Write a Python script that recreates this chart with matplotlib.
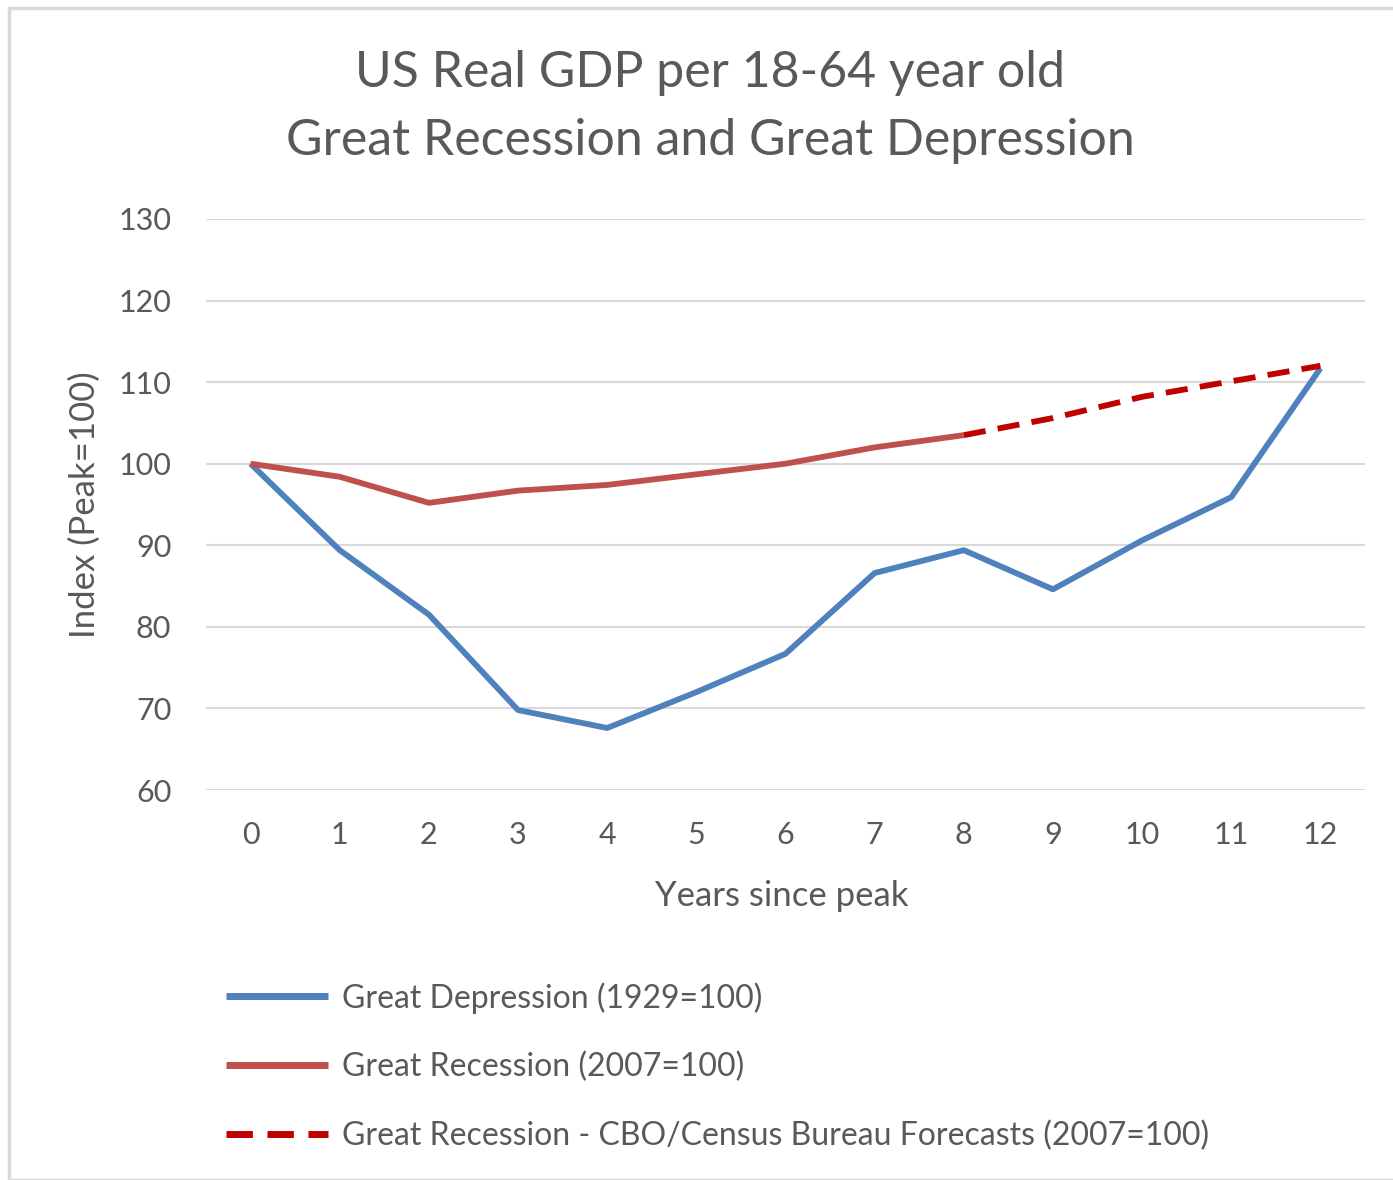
import matplotlib.pyplot as plt
from matplotlib.patches import Rectangle

years = list(range(13))
depression = [100, 89.4, 81.5, 69.8, 67.6, 72.0, 76.7, 86.6, 89.4, 84.6, 90.6, 95.9, 111.7]
recession_years = list(range(9))
recession = [100, 98.4, 95.2, 96.7, 97.4, 98.7, 100, 102, 103.5]
forecast_years = list(range(8, 13))
forecast = [103.5, 105.6, 108.2, 110.1, 112]

labels = ['Great Depression (1929=100)',
          'Great Recession (2007=100)',
          'Great Recession - CBO/Census Bureau Forecasts (2007=100)']

txt = '#595959'
plt.rcParams['font.family'] = ['Lato', 'DejaVu Sans']

W, H = 1393, 1180
fig = plt.figure(figsize=(W / 100, H / 100), dpi=100)
fig.patches.append(Rectangle((9 / W, 0), 1, 1 - 8 / H, transform=fig.transFigure,
                             fill=False, edgecolor='#D9D9D9', linewidth=2.5))

ax = fig.add_axes([206 / W, 1 - 790 / H, (1365 - 206) / W, 571 / H])
ax.plot(years, depression, color='#4F81BD', linewidth=4.2, label=labels[0], solid_capstyle='butt')
ax.plot(recession_years, recession, color='#C0504D', linewidth=4.2, label=labels[1], solid_capstyle='butt')
ax.plot(forecast_years, forecast, color='#C00000', linewidth=4.2, label=labels[2],
        dashes=(3.8, 2.1))

ax.set_xlim(-0.5, 12.5)
ax.set_ylim(60, 130)
ax.set_xticks(years)
ax.set_yticks(range(60, 131, 10))
ax.grid(axis='y', color='#D9D9D9', linewidth=1.5)
ax.set_axisbelow(True)
for s in ax.spines.values():
    s.set_visible(False)
ax.tick_params(length=0, labelsize=22, labelcolor=txt)
ax.tick_params(axis='x', pad=22)
ax.tick_params(axis='y', pad=25)

fig.text(710 / W, 1 - 73 / H, 'US Real GDP per 18-64 year old', ha='center', va='center',
         fontsize=36, color=txt)
fig.text(710 / W, 1 - 141 / H, 'Great Recession and Great Depression', ha='center', va='center',
         fontsize=36, color=txt)
fig.text(782 / W, 1 - 896 / H, 'Years since peak', ha='center', va='center', fontsize=25, color=txt)
fig.text(85 / W, 1 - 505 / H, 'Index (Peak=100)', ha='center', va='center', rotation=90,
         fontsize=25, color=txt)

leg = ax.legend(loc='upper left', bbox_to_anchor=(226 / W, 1 - 982 / H),
                bbox_transform=fig.transFigure, frameon=False, fontsize=23,
                borderpad=0, borderaxespad=0, handlelength=3.2, handletextpad=0.44,
                labelspacing=1.2)
for t in leg.get_texts():
    t.set_color(txt)
for h in leg.get_lines():
    h.set_linewidth(5)

fig.savefig('out.png', dpi=100)
